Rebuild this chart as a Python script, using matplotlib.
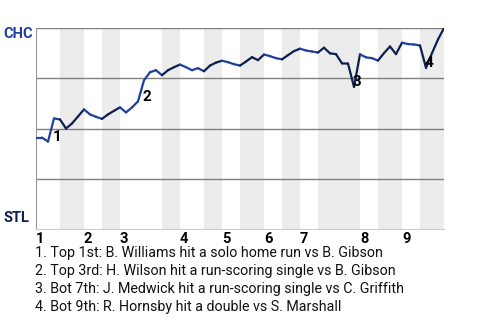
import numpy as np
import matplotlib.pyplot as plt
from matplotlib.collections import LineCollection

# CHC win probability after each plate appearance
win_prob = [0.455, 0.455, 0.435, 0.55, 0.545, 0.50, 0.525, 0.56, 0.595, 0.57,
            0.558, 0.548, 0.57, 0.588, 0.605, 0.58, 0.605, 0.635, 0.74, 0.78,
            0.79, 0.765, 0.79, 0.805, 0.818, 0.805, 0.79, 0.80, 0.785, 0.813,
            0.828, 0.837, 0.83, 0.82, 0.813, 0.833, 0.855, 0.84, 0.868, 0.86,
            0.85, 0.844, 0.865, 0.885, 0.897, 0.888, 0.883, 0.878, 0.902, 0.874,
            0.87, 0.824, 0.823, 0.707, 0.869, 0.854, 0.85, 0.838, 0.875, 0.908,
            0.87, 0.927, 0.92, 0.918, 0.913, 0.802, 0.875, 0.943, 1.0]

# plate appearances in each half inning (top 1st, bot 1st, ...)
pa_per_half = [4, 4, 3, 3, 7, 3, 4, 3, 3, 4, 3, 3, 3, 7, 3, 4, 3, 4]
innings = ['1', '2', '3', '4', '5', '6', '7', '8', '9']

# key events: index of the plate appearance and description
event_idx = [3, 18, 53, 65]
event_text = [
    '1. Top 1st: B. Williams hit a solo home run vs B. Gibson',
    '2. Top 3rd: H. Wilson hit a run-scoring single vs B. Gibson',
    '3. Bot 7th: J. Medwick hit a run-scoring single vs C. Griffith',
    '4. Bot 9th: R. Hornsby hit a double vs S. Marshall',
]

chc_color = '#1f409e'
stl_color = '#0c1f4f'

plt.rcParams['font.family'] = ['Roboto', 'DejaVu Sans']

fig = plt.figure(figsize=(4.8, 3.2), dpi=100)
ax = fig.add_axes([36 / 480, 1 - 229 / 320, 408 / 480, 201 / 320])

bounds = np.concatenate([[0], np.cumsum(pa_per_half)])
n = bounds[-1]

# shade bottom halves
for h in range(1, len(pa_per_half), 2):
    ax.axvspan(bounds[h], bounds[h + 1], color='#ececec', lw=0, zorder=0)

for v in [0.25, 0.5, 0.75, 1.0]:
    ax.axhline(v, color='#808080', lw=1, zorder=1)

# line, coloured by batting team
x = np.arange(len(win_prob))
pts = np.column_stack([x, win_prob])
segs = np.stack([pts[:-1], pts[1:]], axis=1)
half_of = np.searchsorted(bounds, x[1:], side='left') - 1
colors = [chc_color if h % 2 == 0 else stl_color for h in half_of]
ax.add_collection(LineCollection(segs, colors=colors, linewidths=1.6, zorder=3,
                                 capstyle='round', joinstyle='round'))

for k, i in enumerate(event_idx):
    y = min(win_prob[i - 1], win_prob[i])
    ax.text(i - 0.2, y - 0.012, str(k + 1), ha='left', va='bottom', fontsize=11,
            fontweight='bold', color='black', zorder=4)

ax.set_xlim(0, n)
ax.set_ylim(0, 1)
ax.set_yticks([])
ax.set_xticks(bounds[0:-1:2])
ax.set_xticklabels(innings, fontweight='bold', fontsize=10.5)
for lab in ax.get_xticklabels():
    lab.set_horizontalalignment('left')
ax.tick_params(axis='x', length=0, pad=2)

for s in ['top', 'right']:
    ax.spines[s].set_visible(False)
ax.spines['left'].set_color('#999999')
ax.spines['bottom'].set_color('#cccccc')

fig.text(3 / 480, 1 - 34 / 320, 'CHC', color=chc_color, fontweight='bold',
         fontsize=10.5, va='center', ha='left')
fig.text(3 / 480, 1 - 218 / 320, 'STL', color=stl_color, fontweight='bold',
         fontsize=10.5, va='center', ha='left')

for k, t in enumerate(event_text):
    fig.text(35 / 480, 1 - (253 + 18 * k) / 320, t, fontsize=10.3, va='center',
             ha='left', color='#111111')

fig.savefig('out.png', dpi=100)
